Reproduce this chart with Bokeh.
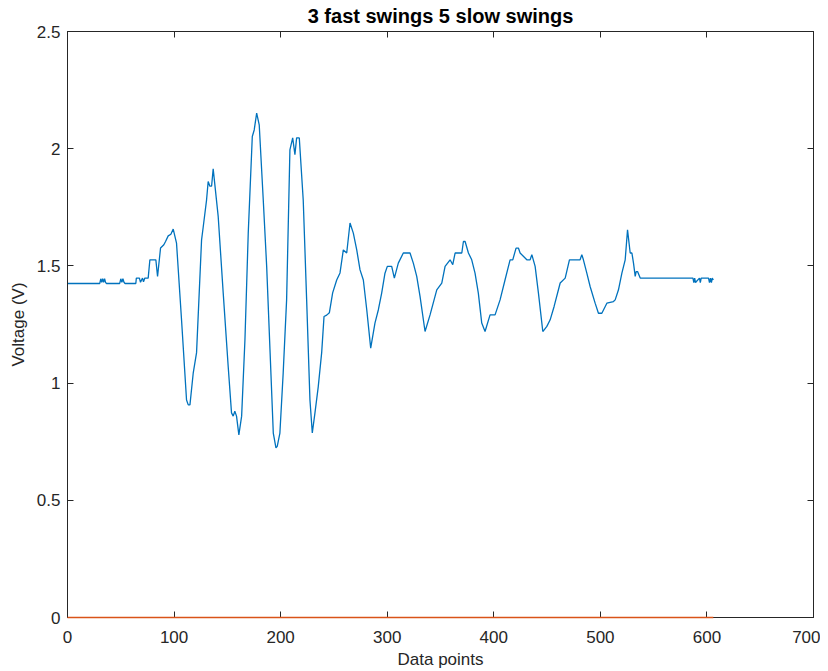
from bokeh.plotting import figure
from bokeh.models import Range1d, LinearAxis, FixedTicker, CustomJSTickFormatter
from bokeh.embed import file_html
from bokeh.resources import INLINE

# ---- data ----
blue_x = [0, 30.3, 31.2, 32.1, 33.0, 33.9, 34.8, 35.7, 36.6, 49.0, 50.0, 51.0, 52.0, 53.0, 54.0,
          64.1, 64.6, 67.5, 68.5, 70.4, 71.3, 72.6, 75.7, 77.3, 82.9, 84.5, 87.3, 90.4, 92.0,
          94.5, 97.0, 99.2, 102.3, 107.0, 111.7, 113.3, 114.9, 118.0, 121.1, 125.8, 127.4,
          130.5, 132.0, 133.6, 135.2, 136.7, 141.4, 146.1, 150.8, 153.9, 155.5, 157.0, 158.6,
          160.8, 163.4, 166.5, 169.6, 173.4, 175.2, 177.5, 179.9, 183.7, 186.9, 190.0, 193.1,
          195.6, 196.8, 199.3, 202.4, 205.6, 208.7, 211.3, 213.4, 215.0, 217.5, 221.2, 224.4,
          227.5, 229.7, 232.2, 235.3, 238.5, 240.7, 243.2, 245.7, 248.8, 252.6, 255.7, 258.8,
          262.0, 265.1, 268.2, 271.4, 274.5, 277.6, 280.8, 284.5, 288.5, 291.7, 294.8, 297.9,
          300.1, 304.2, 306.7, 310.4, 315.1, 321.4, 324.5, 327.7, 330.8, 335.5, 340.2, 346.5,
          351.2, 354.3, 359.0, 361.5, 363.7, 370.0, 371.5, 373.1, 376.2, 379.3, 382.4, 385.5,
          388.7, 391.8, 396.5, 401.2, 405.9, 410.6, 415.3, 417.8, 420.9, 423.1, 424.7, 431.0,
          434.1, 435.7, 438.8, 441.9, 446.0, 449.8, 452.9, 456.6, 462.3, 467.0, 471.0, 481.0,
          482.6, 484.1, 487.3, 490.4, 495.1, 498.2, 501.4, 506.1, 512.3, 513.9, 517.0, 520.2,
          523.3, 525.5, 528.0, 529.6, 531.1, 532.7, 533.6, 534.9, 537.4, 586.9, 587.7, 588.5,
          589.3, 593.0, 593.8, 594.6, 601.5, 602.4, 603.3, 604.2, 605.0, 606.0]
blue_y = [1.425, 1.425, 1.445, 1.43, 1.445, 1.43, 1.445, 1.43, 1.425, 1.425, 1.445, 1.43, 1.445, 1.43, 1.425,
          1.425, 1.448, 1.448, 1.43, 1.448, 1.432, 1.448, 1.448, 1.526, 1.526, 1.455, 1.576, 1.590, 1.604,
          1.628, 1.635, 1.657, 1.597, 1.27, 0.928, 0.907, 0.907, 1.044, 1.13, 1.611, 1.668,
          1.782, 1.86, 1.84, 1.84, 1.914, 1.711, 1.385, 1.07, 0.873, 0.859, 0.88, 0.859,
          0.779, 0.859, 1.185, 1.64, 2.052, 2.08, 2.152, 2.102, 1.78, 1.497, 1.142, 0.787,
          0.724, 0.73, 0.787, 1.044, 1.355, 1.995, 2.046, 1.975, 2.046, 2.046, 1.78, 1.355,
          0.928, 0.787, 0.873, 0.985, 1.13, 1.284, 1.29, 1.30, 1.385, 1.44, 1.47, 1.568,
          1.555, 1.683, 1.64, 1.568, 1.483, 1.44, 1.313, 1.149, 1.256, 1.313, 1.384, 1.469,
          1.498, 1.498, 1.448, 1.512, 1.555, 1.555, 1.512, 1.455, 1.37, 1.22, 1.291, 1.398,
          1.427, 1.498, 1.526, 1.505, 1.555, 1.555, 1.604, 1.604, 1.555, 1.526, 1.469, 1.384,
          1.256, 1.22, 1.291, 1.291, 1.355, 1.441, 1.526, 1.526, 1.576, 1.576, 1.555, 1.526,
          1.526, 1.548, 1.498, 1.384, 1.22, 1.242, 1.27, 1.327, 1.427, 1.448, 1.526, 1.526,
          1.548, 1.526, 1.469, 1.412, 1.341, 1.298, 1.298, 1.341, 1.348, 1.355, 1.398, 1.469,
          1.526, 1.654, 1.555, 1.555, 1.512, 1.455, 1.476, 1.476, 1.448, 1.448, 1.429, 1.448,
          1.429, 1.448, 1.429, 1.448, 1.448, 1.429, 1.448, 1.429, 1.448, 1.44]
orange_x = [0, 606]
orange_y = [0, 0]

x_ticks = [0, 100, 200, 300, 400, 500, 600, 700]
y_ticks = [0, 0.5, 1, 1.5, 2, 2.5]

title_text = "3 fast swings 5 slow swings"
x_label = "Data points"
y_label = "Voltage (V)"

FONT = "Liberation Sans"
TXT = "#262626"

p = figure(frame_width=746, frame_height=586,
           x_range=Range1d(0, 700), y_range=Range1d(0, 2.5),
           output_backend="svg", toolbar_location=None,
           min_border_left=67, min_border_right=7, min_border_top=31, min_border_bottom=52)

p.line(blue_x, blue_y, line_color="#0072BD", line_width=1.3)
r_or = p.line(orange_x, orange_y, line_color="#D95319", line_width=1.3)
r_or.level = "overlay"

p.xgrid.visible = False
p.ygrid.visible = False
p.outline_line_color = TXT
p.outline_line_width = 1
p.background_fill_color = "white"
p.border_fill_color = "white"

p.title.text = title_text
p.title.align = "center"
p.title.vertical_align = "top"
p.title.text_font = FONT
p.title.text_font_style = "bold"
p.title.text_font_size = "20px"
p.title.text_color = "#000000"
p.title.standoff = 6

fmt = CustomJSTickFormatter(code="return tick.toString();")
blank = CustomJSTickFormatter(code="return '';")

for ax in p.xaxis:
    ax.ticker = FixedTicker(ticks=x_ticks)
    ax.axis_label = x_label
for ax in p.yaxis:
    ax.ticker = FixedTicker(ticks=y_ticks)
    ax.axis_label = y_label
    ax.formatter = fmt

for ax in list(p.xaxis) + list(p.yaxis):
    ax.major_tick_in = 6
    ax.major_tick_out = 0
    ax.minor_tick_in = 0
    ax.minor_tick_out = 0
    ax.axis_line_color = TXT
    ax.major_tick_line_color = TXT
    ax.major_label_text_font = FONT
    ax.major_label_text_font_size = "17px"
    ax.major_label_text_color = TXT
    ax.axis_label_text_font = FONT
    ax.axis_label_text_font_size = "17px"
    ax.axis_label_text_font_style = "normal"
    ax.axis_label_text_color = TXT

p.xaxis.major_label_standoff = 13
p.xaxis.axis_label_standoff = 4
p.yaxis.major_label_standoff = 7
p.yaxis.axis_label_standoff = 6

# mirrored tick axes on top and right
top = LinearAxis(ticker=FixedTicker(ticks=x_ticks), formatter=blank, major_tick_in=6, major_tick_out=0,
                 minor_tick_in=0, minor_tick_out=0, major_label_standoff=0,
                 axis_line_color=TXT, major_tick_line_color=TXT)
right = LinearAxis(ticker=FixedTicker(ticks=y_ticks), formatter=blank, major_tick_in=6, major_tick_out=0,
                   minor_tick_in=0, minor_tick_out=0, major_label_standoff=0,
                   axis_line_color=TXT, major_tick_line_color=TXT)
p.add_layout(top, "above")
p.add_layout(right, "right")

open("out.html", "w").write(file_html(p, INLINE))
